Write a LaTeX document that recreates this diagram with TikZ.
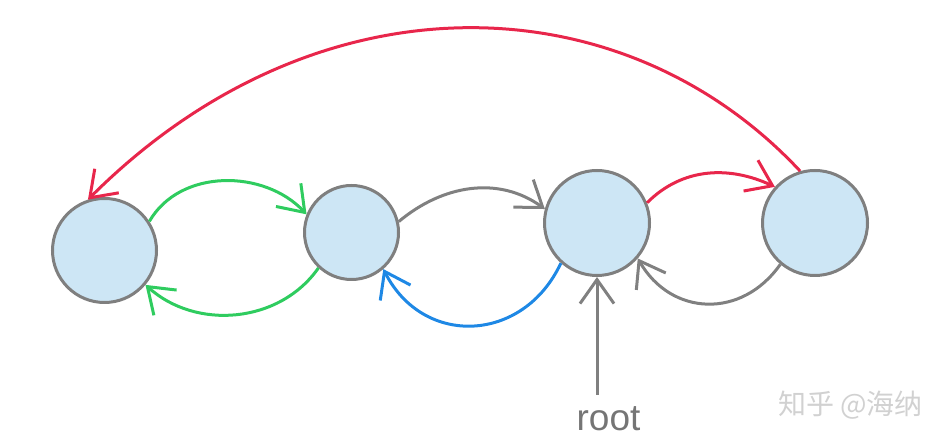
\documentclass[tikz,border=0pt]{standalone}
\usepackage{fontspec}
\setmainfont{Liberation Sans}
\newfontfamily\cjk{Noto Sans CJK SC}
\usetikzlibrary{arrows.meta}
\definecolor{cfill}{HTML}{CDE6F5}
\definecolor{cline}{HTML}{7F7F7F}
\definecolor{ered}{HTML}{E8264B}
\definecolor{egreen}{HTML}{2FCC5F}
\definecolor{eblue}{HTML}{1E88E5}
\definecolor{egray}{HTML}{808080}
\definecolor{tgray}{HTML}{757575}
\tikzset{
  state/.style={circle, draw=cline, fill=cfill, line width=3pt, inner sep=0pt},
  edge/.style={line width=3pt, -{Straight Barb[length=24pt,width=34pt]}},
}
\begin{document}
\begin{tikzpicture}[x=1pt,y=1pt]
\useasboundingbox (0,0) rectangle (952,446);
\node[state, minimum size=104pt] (n1) at (104.5,195.5) {};
\node[state, minimum size=94pt]  (n2) at (351.5,213.5) {};
\node[state, minimum size=105pt] (n3) at (597,223) {};
\node[state, minimum size=105pt] (n4) at (815,223) {};
\coordinate (rootpt) at (597,51);
\node[text=tgray, font=\fontsize{37}{40}\selectfont, anchor=base] (rootlbl) at (608.5,15) {root};
\node[text=black!18, font=\cjk\fontsize{28}{32}\selectfont, anchor=west, inner sep=0pt] (wm) at (778,41) {知乎 @海纳};
% edges
\draw[edge, egreen] (n1.33) to[out=60, in=133] (n2.158);
\draw[edge, egreen] (n2.227) to[out=235, in=318] (n1.320);
\draw[edge, egray] (n2.13) to[out=40, in=144] (n3.165);
\draw[edge, eblue] (n3.228) to[out=245, in=297, looseness=1.27] (n2.311.5);
\draw[edge, ered] (n3.22) to[out=45, in=155] (n4.138);
\draw[edge, egray] (n4.230) to[out=235, in=300, looseness=1.2] (n3.319);
\draw[edge, ered] (n4.106) .. controls +(133:262) and +(45:322) .. (n1.108);
\draw[edge, egray] (rootpt) -- (n3.south);
\end{tikzpicture}
\end{document}
